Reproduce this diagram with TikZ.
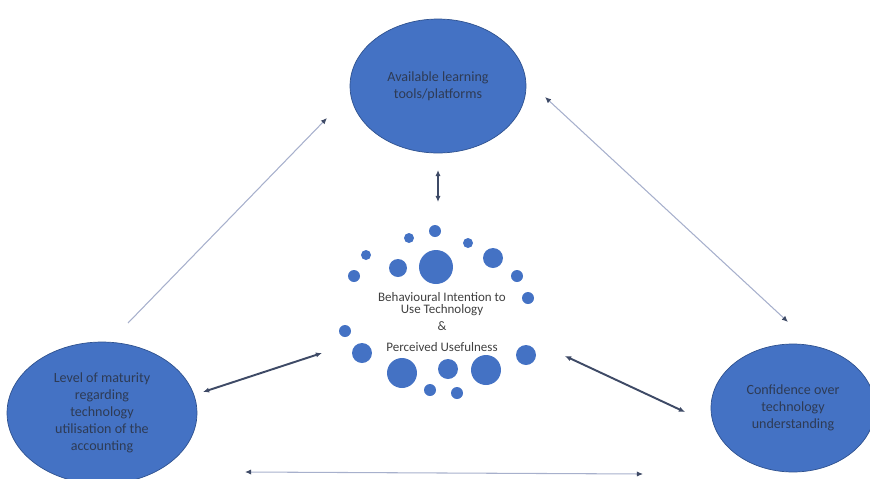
\documentclass[tikz,border=0pt]{standalone}
\usepackage{fontspec}
\setmainfont{Carlito}
\usepackage{xcolor}
\usepackage{tikz}
\usetikzlibrary{arrows.meta}
\usetikzlibrary{shapes.geometric}
\definecolor{ellblue}{HTML}{4472C4}
\definecolor{ellline}{HTML}{2F528F}
\definecolor{ellfont}{HTML}{2E3B55}
\definecolor{thinline}{HTML}{A7B0CC}
\definecolor{darkline}{HTML}{3E4A66}
\definecolor{midfont}{HTML}{404040}
\tikzset{>={Latex[length=3.5pt,width=3pt,color=darkline]}}

\begin{document}
\begin{tikzpicture}[x=0.02cm,y=-0.02cm,
	factor/.style={draw=ellline,fill=ellblue,ellipse,inner sep=0pt,align=center,text=ellfont,font=\fontsize{8}{9.6}\selectfont},
	dot/.style={circle,fill=ellblue,inner sep=0pt},
	weak/.style={<->,draw=thinline,line width=0.6pt},
	strong/.style={<->,draw=darkline,line width=1.1pt}]
	\useasboundingbox (0,0) rectangle (870,478);
	\node[factor,minimum width=3.52cm,minimum height=2.68cm] (tools) at (438,86) {Available learning\\tools/platforms};
	\node[factor,minimum width=3.8cm,minimum height=2.84cm] (maturity) at (102,413) {Level of maturity\\regarding\\technology\\utilisation of the\\accounting};
	\node[factor,minimum width=3.28cm,minimum height=2.56cm] (confidence) at (793,408) {Confidence over\\technology\\understanding};
	% cluster round the centre
	\node[dot,minimum size=0.24cm] (d1) at (435,231) {};
	\node[dot,minimum size=0.2cm] (d2) at (409,238) {};
	\node[dot,minimum size=0.2cm] (d3) at (468,243) {};
	\node[dot,minimum size=0.2cm] (d4) at (366,255) {};
	\node[dot,minimum size=0.68cm] (d5) at (436,267) {};
	\node[dot,minimum size=0.36cm] (d6) at (398,268) {};
	\node[dot,minimum size=0.4cm] (d7) at (493,258) {};
	\node[dot,minimum size=0.24cm] (d8) at (354,276) {};
	\node[dot,minimum size=0.24cm] (d9) at (517,276) {};
	\node[dot,minimum size=0.24cm] (d10) at (528,298) {};
	\node[dot,minimum size=0.24cm] (d11) at (345,331) {};
	\node[dot,minimum size=0.4cm] (d12) at (362,353) {};
	\node[dot,minimum size=0.6cm] (d13) at (402,373) {};
	\node[dot,minimum size=0.4cm] (d14) at (448,369) {};
	\node[dot,minimum size=0.6cm] (d15) at (486,370) {};
	\node[dot,minimum size=0.4cm] (d16) at (526,355) {};
	\node[dot,minimum size=0.24cm] (d17) at (430,390) {};
	\node[dot,minimum size=0.24cm] (d18) at (457,393) {};
	\node[align=center,text=midfont,font=\fontsize{7.4}{6.8}\selectfont] (intention) at (442,322) {Behavioural Intention to\\Use Technology\\[3.4pt]\&\\[5.1pt]Perceived Usefulness};
	% connector ends
	\coordinate (mat-up) at (128,323);
	\coordinate (tools-l) at (327,118);
	\coordinate (tools-r) at (545,97);
	\coordinate (conf-up) at (788,322);
	\coordinate (mat-low) at (245,472);
	\coordinate (conf-low) at (643,474);
	\coordinate (mat-in) at (203,392);
	\coordinate (dots-l) at (322,353);
	\coordinate (dots-r) at (565,356);
	\coordinate (conf-in) at (685,412);
	\coordinate (tools-b) at (438,170);
	\coordinate (dots-t) at (438,202);
	\draw[weak,<-] (tools-l)--(mat-up);
	\draw[weak] (tools-r)--(conf-up);
	\draw[weak] (mat-low)--(conf-low);
	\draw[strong] (mat-in)--(dots-l);
	\draw[strong] (dots-r)--(conf-in);
	\draw[strong] (tools-b)--(dots-t);
\end{tikzpicture}
\end{document}
